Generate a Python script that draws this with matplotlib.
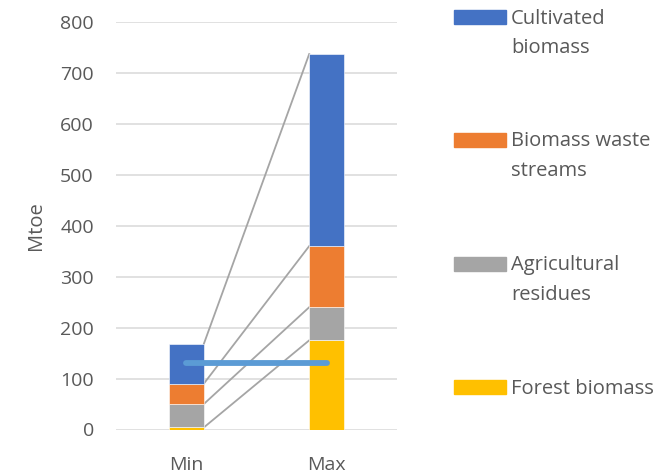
import matplotlib
matplotlib.use('Agg')
import numpy as np
import matplotlib.pyplot as plt
from matplotlib.patches import Rectangle

plt.rcParams['font.family'] = ['Open Sans', 'DejaVu Sans']

# biomass potential by source (Mtoe), stacked bottom to top
scenarios = ['Min', 'Max']
forest = [4, 175]
agricultural = [46, 65]
waste = [40, 120]
cultivated = [78, 377]
reference_level = 130

series = [
    ('Forest biomass', forest, '#FFC000'),
    ('Agricultural\nresidues', agricultural, '#A5A5A5'),
    ('Biomass waste\nstreams', waste, '#ED7D31'),
    ('Cultivated\nbiomass', cultivated, '#4472C4'),
]

text_col = '#595959'
W, H = 661, 474
fig = plt.figure(figsize=(W / 100, H / 100), dpi=100)
ax = fig.add_axes([116 / W, 1 - 429.5 / H, (397 - 116) / W, (429.5 - 22) / H])

x = np.arange(len(scenarios))
bar_width = 0.25
bottom = np.zeros(len(scenarios))
tops = []
for name, vals, col in series:
    vals = np.array(vals, dtype=float)
    ax.bar(x, vals, bar_width, bottom=bottom, color=col, zorder=3,
           edgecolor='white', linewidth=0.4)
    bottom = bottom + vals
    tops.append(bottom.copy())

# series lines between the stacked segments
for top in tops:
    ax.plot([x[0] + bar_width / 2, x[1] - bar_width / 2], [top[0], top[1]],
            color='#A5A5A5', lw=1.3, zorder=2)

ax.plot([x[0], x[1]], [reference_level, reference_level], color='#5B9BD5',
        lw=4.2, solid_capstyle='round', zorder=4)

ax.set_xlim(-0.5, 1.5)
ax.set_ylim(0, 800)
ax.set_yticks(np.arange(0, 801, 100))
ax.set_xticks(x)
ax.set_xticklabels(scenarios)
ax.yaxis.grid(True, color='#D9D9D9', lw=1.1, zorder=0)
ax.set_axisbelow(True)
for s in ax.spines.values():
    s.set_visible(False)
ax.tick_params(length=0, labelsize=14, colors=text_col)
ax.tick_params(axis='y', pad=16)
ax.tick_params(axis='x', pad=19)
ax.set_ylabel('Mtoe', fontsize=14.5, color=text_col, labelpad=10)

# legend drawn as boxes with wrapped labels
legend_rows = [17, 140, 263.5, 387]
for (name, vals, col), yc in zip(series[::-1], legend_rows):
    fig.add_artist(Rectangle((454 / W, 1 - (yc + 7) / H), 52 / W, 14 / H,
                             transform=fig.transFigure, color=col))
    fig.text(511 / W, 1 - (yc - 8.5) / H, name, fontsize=14.5, color=text_col,
             va='top', ha='left', linespacing=1.65)

fig.savefig('out.png', dpi=100)
